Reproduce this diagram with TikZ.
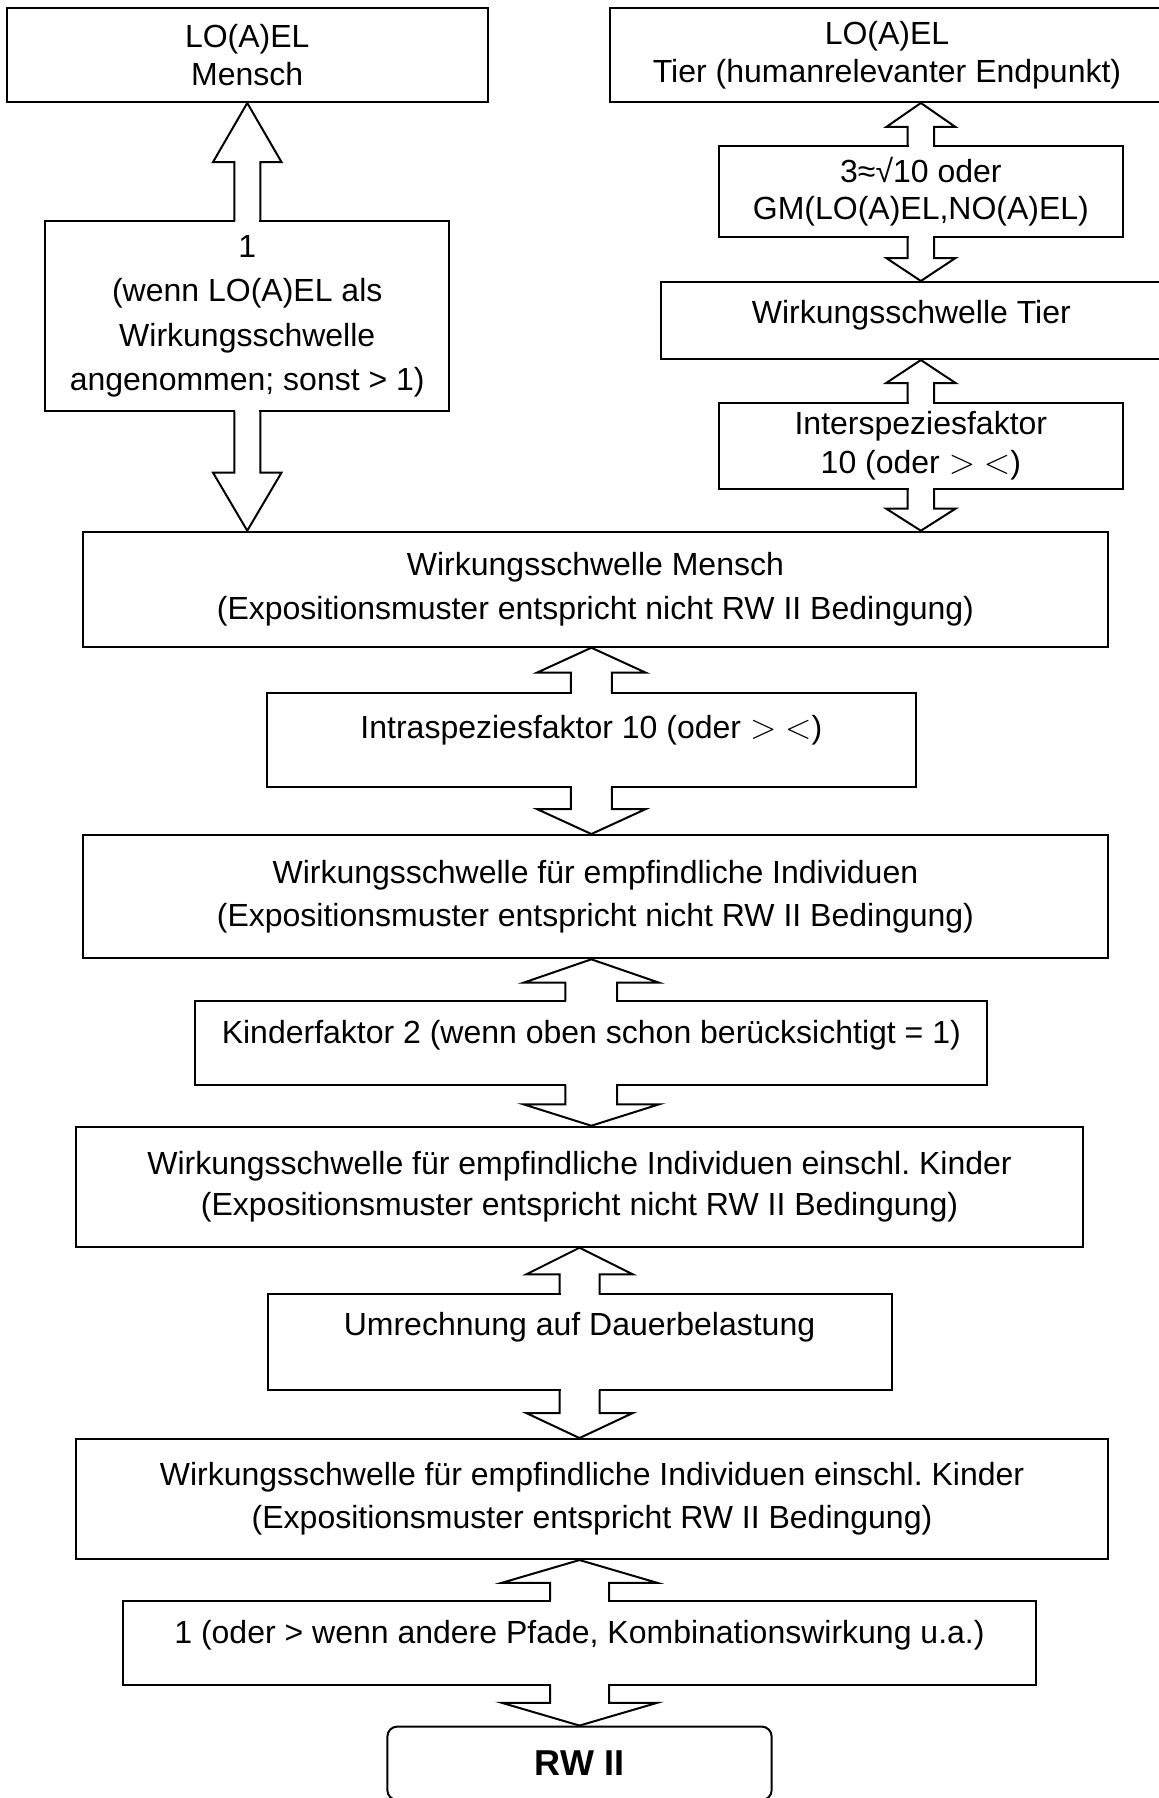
\documentclass[tikz,border=0pt]{standalone}
\usepackage{fontspec}
\setmainfont{Liberation Sans}
\usetikzlibrary{calc}
\frenchspacing
\newcommand{\boxfont}[1]{\fontsize{16pt}{#1}\selectfont}
\tikzstyle{box} = [rectangle, draw, line width=1pt, inner sep=0pt, align=center, font=\boxfont{21.65pt}]
\tikzstyle{endbox} = [box, rounded corners=5pt, font=\fontsize{18pt}{22pt}\selectfont\bfseries]
\tikzstyle{fat} = [line width=1pt, line join=miter]
\newcommand{\fatarrow}[5]{%
  \fill[white] let \p1=(#1), \p2=(#2), \n1={ifthenelse(\y2>\y1,1,-1)} in
    ({\x1-#3*0.5pt+0.5pt},{\y1-(\n1)*1.5pt}) -- ({\x1-#3*0.5pt+0.5pt},{\y2-(\n1)*#5*0.5pt})
    -- ({\x1+#3*0.5pt-0.5pt},{\y2-(\n1)*#5*0.5pt}) -- ({\x1+#3*0.5pt-0.5pt},{\y1-(\n1)*1.5pt}) -- cycle;
  \draw[fat] let \p1=(#1), \p2=(#2), \n1={ifthenelse(\y2>\y1,1,-1)} in
    ({\x1-#3*0.5pt},{\y1-(\n1)*0.5pt}) -- ({\x1-#3*0.5pt},{\y2-(\n1)*#5*0.5pt})
    -- ({\x1-#4*0.5pt},{\y2-(\n1)*#5*0.5pt}) -- (\x1,\y2)
    -- ({\x1+#4*0.5pt},{\y2-(\n1)*#5*0.5pt}) -- ({\x1+#3*0.5pt},{\y2-(\n1)*#5*0.5pt})
    -- ({\x1+#3*0.5pt},{\y1-(\n1)*0.5pt});}

\begin{document}
\begin{tikzpicture}[x=0.5pt, y=-0.5pt]
\useasboundingbox (0,0) rectangle (1158,1798);
	\node (LoaelMensch) [box, minimum width=240.25pt, minimum height=47pt, font=\boxfont{18.75pt}] at (247.25,55) {LO(A)EL\\Mensch};
	\node (LoaelTier) [box, node distance=319.875pt, right of=LoaelMensch, minimum width=277.4pt, minimum height=47pt, font=\boxfont{18.75pt}] {LO(A)EL\\Tier (humanrelevanter Endpunkt)};
	\node (FaktorMensch) [box, node distance=130.7pt, below of=LoaelMensch, minimum width=202pt, minimum height=95pt, font=\boxfont{22.2pt}] {1\\(wenn LO(A)EL als\\Wirkungsschwelle\\angenommen; sonst > 1)};
	\node (FaktorTier) [box, node distance=68.3pt, below of=LoaelTier, xshift=16.93pt, minimum width=202.15pt, minimum height=45.2pt, font=\boxfont{18.75pt}] {3≈√10 oder\\GM(LO(A)EL,NO(A)EL)};
	\node (SchwelleTier) [box, node distance=64.45pt, below of=FaktorTier, xshift=-4.75pt, minimum width=250.65pt, minimum height=38.5pt, text height=11.5pt, text depth=9pt] {Wirkungsschwelle Tier};
	\node (Inter) [box, node distance=62.65pt, below of=SchwelleTier, xshift=4.75pt, minimum width=202.15pt, minimum height=42.8pt, font=\boxfont{19.65pt}] {Interspeziesfaktor\\10 (oder $>$ $<$)};
	\node (SchwelleMensch) [box, node distance=136.4pt, below of=FaktorMensch, xshift=174.08pt, minimum width=512.15pt, minimum height=57.5pt] {Wirkungsschwelle Mensch\\(Expositionsmuster entspricht nicht RW II Bedingung)};
	\node (Intra) [box, node distance=75.4pt, below of=SchwelleMensch, xshift=-2.03pt, minimum width=324.2pt, minimum height=46.7pt, text height=11.5pt, text depth=13.5pt] {Intraspeziesfaktor 10 (oder $>$ $<$)};
	\node (Empfindlich) [box, node distance=78.33pt, below of=Intra, xshift=2.03pt, minimum width=512.15pt, minimum height=61.65pt] {Wirkungsschwelle für empfindliche Individuen\\(Expositionsmuster entspricht nicht RW II Bedingung)};
	\node (Kinderfaktor) [box, node distance=73.1pt, below of=Empfindlich, xshift=-2.05pt, minimum width=395.85pt, minimum height=42.15pt, text height=11.5pt, text depth=11pt] {Kinderfaktor 2 (wenn oben schon berücksichtigt = 1)};
	\node (Kinder) [box, node distance=71.93pt, below of=Kinderfaktor, xshift=-5.9pt, minimum width=503.75pt, minimum height=60pt, font=\boxfont{20.85pt}] {Wirkungsschwelle für empfindliche Individuen einschl. Kinder\\(Expositionsmuster entspricht nicht RW II Bedingung)};
	\node (Umrechnung) [box, node distance=77.73pt, below of=Kinder, minimum width=312pt, minimum height=47.85pt, text height=11.5pt, text depth=18.5pt] {Umrechnung auf Dauerbelastung};
	\node (Dauer) [box, node distance=78.43pt, below of=Umrechnung, xshift=6.25pt, minimum width=515.9pt, minimum height=60pt] {Wirkungsschwelle für empfindliche Individuen einschl. Kinder\\(Expositionsmuster entspricht RW II Bedingung)};
	\node (Pfade) [box, node distance=71.93pt, below of=Dauer, xshift=-6.25pt, minimum width=456.1pt, minimum height=42.15pt, text height=11.5pt, text depth=11pt] {1 (oder > wenn andere Pfade, Kombinationswirkung u.a.)};
	\node (RW) [endbox, node distance=60.2pt, below of=Pfade, minimum width=192.15pt, minimum height=36.75pt] {RW II};

	\fatarrow{FaktorMensch.north}{FaktorMensch.north |- LoaelMensch.south}{13}{34.2}{59}
	\fatarrow{FaktorMensch.south}{FaktorMensch.south |- SchwelleMensch.north}{13}{34.2}{58}
	\fatarrow{FaktorTier.north}{FaktorTier.north |- LoaelTier.south}{13.3}{34.6}{24}
	\fatarrow{FaktorTier.south}{FaktorTier.south |- SchwelleTier.north}{13.3}{34.6}{23}
	\fatarrow{Inter.north}{Inter.north |- SchwelleTier.south}{13.3}{34.6}{23}
	\fatarrow{Inter.south}{Inter.south |- SchwelleMensch.north}{13.3}{34.6}{22}
	\fatarrow{Intra.north}{Intra.north |- SchwelleMensch.south}{20.5}{54.5}{25}
	\fatarrow{Intra.south}{Intra.south |- Empfindlich.north}{20.5}{54.5}{25}
	\fatarrow{Kinderfaktor.north}{Kinderfaktor.north |- Empfindlich.south}{25.9}{67.8}{23.4}
	\fatarrow{Kinderfaktor.south}{Kinderfaktor.south |- Kinder.north}{25.9}{67.8}{21.4}
	\fatarrow{Umrechnung.north}{Umrechnung.north |- Kinder.south}{20}{53.2}{26.6}
	\fatarrow{Umrechnung.south}{Umrechnung.south |- Dauer.north}{20}{53.2}{25}
	\fatarrow{Pfade.north}{Pfade.north |- Dauer.south}{29.5}{77.5}{22.7}
	\fatarrow{Pfade.south}{Pfade.south |- RW.north}{29.5}{77.5}{22.7}
\end{tikzpicture}
\end{document}
